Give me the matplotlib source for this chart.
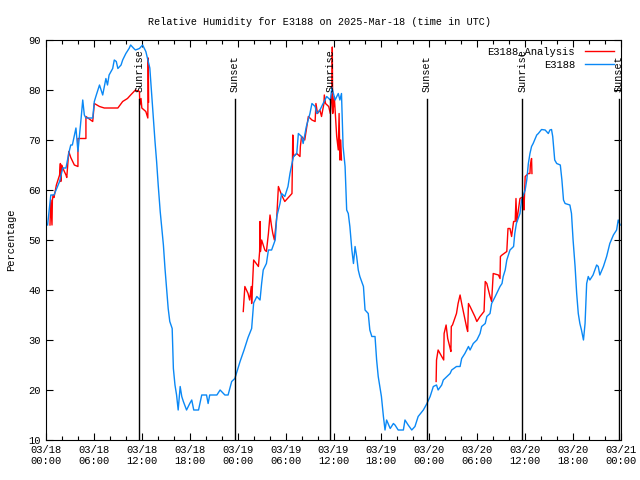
import numpy as np
import matplotlib
matplotlib.use("Agg")
import matplotlib.pyplot as plt
from matplotlib.ticker import MultipleLocator

# hours since 2025-03-18 00:00 UTC
blue_h = [0.2, 0.6, 1.0, 1.7, 2.1, 2.5, 2.9, 3.1, 3.3, 3.75, 4.0, 4.2, 4.4, 4.6, 4.8, 5.0,
          5.85, 6.05, 6.3, 6.7, 7.1, 7.5, 7.7, 7.9, 8.35, 8.55, 8.8, 9.0, 9.4, 9.6, 10.0,
          10.4, 10.6, 11.0, 11.2, 11.7, 12.1, 12.5, 13.0, 13.45, 13.65, 13.85, 14.05, 14.3,
          14.5, 14.7, 14.9, 15.1, 15.3, 15.5, 15.8, 15.95, 16.15, 16.35, 16.55, 16.8, 17.0,
          17.2, 17.6, 18.0, 18.25, 18.5, 19.1, 19.5, 20.1, 20.3, 20.5, 21.4, 21.8, 22.4,
          22.8, 23.25, 23.65, 24.3, 24.8, 25.3,
          25.75, 26.0, 26.4, 26.8, 27.0, 27.2, 27.6, 27.85, 28.25, 28.7, 28.9, 29.3, 29.5,
          29.9, 30.3, 30.55, 30.8, 31.0, 31.4, 31.6, 32.0, 32.2, 32.6, 33.05, 33.3, 33.7,
          33.9, 34.3, 34.7, 35.15, 35.6, 35.8, 36.2, 36.6, 36.8, 37.0, 37.2, 37.45, 37.65,
          37.85, 38.05, 38.3, 38.5, 38.7, 38.9, 39.1, 39.3, 39.75, 39.95, 40.35, 40.55,
          40.8, 41.2, 41.4, 41.6, 41.8, 42.0, 42.25, 42.45, 42.65, 43.1, 43.5, 43.7, 44.1,
          44.75, 44.95, 45.35, 45.8, 46.2, 46.6, 47.25, 47.7, 48.1, 48.5, 48.9, 49.1, 49.55,
          49.75, 50.2, 50.6, 50.8, 51.4, 51.85, 52.05, 52.45, 52.9, 53.1, 53.5, 53.95,
          54.35, 54.55, 55.0, 55.2, 55.6, 55.8, 56.25, 56.65, 56.85, 57.1, 57.25, 57.5,
          57.7, 58.1, 58.55, 58.7, 58.9, 59.35, 59.55, 60.0, 60.2, 60.4, 60.6, 60.8, 61.0,
          61.45, 61.65, 62.05, 62.5, 62.9, 63.1, 63.3, 63.45, 63.7, 63.95, 64.4, 64.6, 64.8,
          65.0, 65.6, 65.8, 66.0, 66.25, 66.45, 66.65, 66.85, 67.05, 67.3, 67.5, 67.7, 67.9,
          68.1, 68.5, 68.95, 69.15, 69.35, 69.8, 70.2, 70.6, 71.05, 71.45, 71.65, 71.9]
blue_v = [53, 59, 59, 61.7, 64.4, 64.4, 67.7, 69, 69, 72.4, 67.7, 71, 74.4, 78, 75, 74.4,
          74.4, 77.7, 79, 81, 79, 82.3, 81, 83, 84.3, 86, 85.7, 84.3, 85, 86, 87.3,
          88.3, 89, 88.3, 88, 88.3, 89, 87.7, 84.4, 74.3, 69.7, 65.7, 61, 55.7,
          52.3, 49, 44.3, 40.3, 36.3, 33.7, 32.3, 24.3, 21, 19, 16, 20.7, 18.7,
          17.7, 16, 17.3, 18, 16, 16, 19, 19, 17.3, 19, 19, 20, 19,
          19, 21.7, 22.3, 25.7, 28, 30.5,
          32.3, 37.4, 38.7, 38, 41.3, 44, 45.3, 48, 48, 50, 54.7, 57.3, 59.3,
          58.7, 60.7, 63.3, 65.3, 66.7, 67.3, 71.3, 70.7, 69.3, 72.7, 75.3, 77.3, 76.7,
          75.3, 76, 77.3, 78.7, 78, 80.5, 78, 79.3, 78, 79.3, 68.7, 64.7, 56,
          55.3, 52.7, 48, 45.3, 48.7, 46.7, 44, 42.7, 40.7, 36, 35.3, 32,
          30.7, 30.7, 26, 22.7, 20.7, 18.7, 14.7, 12, 14, 12.3, 13.3, 13, 12,
          12, 14, 13, 12, 12.7, 14.7, 16, 17.3, 18.7, 20.7, 21, 20, 21,
          22, 22.7, 23.3, 24, 24.7, 24.7, 26.3, 27.3, 28.7, 28, 29.3, 30,
          31.3, 32.7, 33.3, 34.7, 35.3, 37.3, 38.7, 40, 40.7, 41.3, 42.7, 44,
          46, 48, 48.7, 51.3, 53.3, 55.3, 58, 60, 62, 65.3, 67.3, 68.7, 69.3,
          71, 71.3, 72.1, 72, 71.3, 72, 72.1, 70.7, 66, 65.3, 65, 62, 58,
          57.3, 57, 55.3, 50, 44.7, 39.3, 35.3, 33.3, 32, 30, 33.3, 41.3, 42.7,
          42, 43, 45, 44.7, 43, 44.7, 46.7, 49.3, 51, 52, 54, 53]

red1_h = [0.5, 0.6, 0.75, 0.8, 0.9, 1.0, 1.3, 1.7, 1.8, 1.85, 1.95, 2.1, 2.5, 2.6, 2.85,
          3.1, 3.55, 4.0, 4.0, 5.0, 5.0, 5.85, 6.05, 6.7, 7.3, 9.0, 9.6, 10.2, 10.6, 11.2,
          11.7, 11.75, 11.9, 12.0, 12.5, 12.75, 12.8, 12.85]
red1_v = [53, 58, 53, 58, 59, 58.5, 61, 63, 65.3, 61.7, 65, 64.4, 63, 62.5, 67.7,
          66.5, 65, 64.7, 70.3, 70.3, 74.7, 73.7, 77.3, 76.7, 76.4, 76.4, 77.7, 78.3, 79, 80,
          79.7, 77, 78.3, 76.4, 75.7, 74.4, 86.4, 77.6]

red2_h = [24.7, 24.9, 25.3, 25.5, 25.7, 25.75, 26.0, 26.6, 26.75, 26.8, 26.85, 27.0, 27.4,
          27.6, 27.85, 28.05, 28.25, 28.4, 28.6, 28.9, 29.1, 29.5, 29.9, 30.8, 30.85, 30.9,
          31.0, 31.4, 31.8, 31.85, 32.0, 32.4, 32.85, 33.3, 33.7, 33.8, 34.0, 34.3, 34.5,
          34.8, 34.85, 35.0, 35.4, 35.6, 35.8, 35.85, 35.9, 36.0, 36.1, 36.4, 36.6, 36.7,
          36.8, 36.9, 37.0]
red2_v = [35.7, 40.7, 39.3, 38, 40.7, 37.3, 46, 44.7, 47.7, 53.7, 47.7, 50, 48,
          47.7, 51.3, 55, 52.7, 51.3, 50, 54.7, 60.7, 59, 57.7, 59.3, 64.7, 71,
          66.7, 67.3, 66.7, 68.7, 70.7, 70, 74.7, 74, 73.7, 77.3, 75.3, 76, 74.7,
          77.3, 79, 77.3, 76.7, 75.3, 79, 88.6, 75.3, 76.7, 78.7, 70.7, 68, 75.3,
          66, 70, 66]

red3_h = [48.85, 48.9, 49.1, 49.55, 49.8, 49.85, 50.1, 50.3, 50.55, 50.7, 50.75, 50.9,
          51.4, 51.6, 51.85, 52.05, 52.7, 52.8, 52.9, 53.1, 53.7, 53.95, 54.35, 54.85, 55.0,
          55.2, 55.6, 55.8, 56.0, 56.65, 56.85, 56.9, 57.1, 57.7, 57.85, 58.1, 58.3, 58.55,
          58.75, 58.85, 58.95, 59.35, 59.8, 59.85, 60.0, 60.4, 60.6, 60.65, 60.8, 60.85]
red3_v = [21.7, 26, 28, 26.7, 26, 31.3, 33, 30.3, 28.7, 27.7, 32.7, 33,
          35.3, 37.3, 39, 37.3, 32.3, 31.7, 37.3, 36.7, 34.7, 33.7, 34.7, 35.7, 41.7,
          41.3, 38.7, 37.7, 43.3, 43, 42.3, 46.7, 47, 47.7, 52.3, 52.3, 50.7, 53.7,
          53.7, 58.3, 53.7, 58.3, 58.7, 56, 62.7, 63.3, 63.3, 65, 66.3, 63.3]

sunrise_h = [11.68, 35.62, 59.62]
sunset_h = [23.67, 47.68, 71.72]

tick_labels = ["03/18\n00:00", "03/18\n06:00", "03/18\n12:00", "03/18\n18:00",
               "03/19\n00:00", "03/19\n06:00", "03/19\n12:00", "03/19\n18:00",
               "03/20\n00:00", "03/20\n06:00", "03/20\n12:00", "03/20\n18:00",
               "03/21\n00:00"]

plt.rcParams['font.family'] = ['Liberation Mono', 'DejaVu Sans Mono']
plt.rcParams['font.size'] = 7.5

fig = plt.figure(figsize=(6.4, 4.8), dpi=100)
ax = fig.add_axes([46 / 640, 40 / 480, 575 / 640, 400 / 480])

red = '#ff0000'
blue = '#0a88f5'
ax.plot(red1_h, red1_v, color=red, lw=1, label='E3188_Analysis')
ax.plot(red2_h, red2_v, color=red, lw=1)
ax.plot(red3_h, red3_v, color=red, lw=1)
ax.plot(blue_h, blue_v, color=blue, lw=1, label='E3188')

for h in sunrise_h:
    ax.plot([h, h], [10, 78.2], color='black', lw=1)
    ax.text(h, 79.6, 'Sunrise', rotation=90, ha='center', va='bottom', fontsize=7.3)
for h in sunset_h:
    ax.plot([h, h], [10, 78.2], color='black', lw=1)
    ax.text(h, 79.6, 'Sunset', rotation=90, ha='center', va='bottom', fontsize=7.3)

ax.set_xlim(0, 72)
ax.set_ylim(10, 90)
ax.set_xticks(np.arange(0, 73, 6))
ax.set_xticklabels(tick_labels)
ax.xaxis.set_minor_locator(MultipleLocator(2))
ax.set_yticks(np.arange(10, 91, 10))
ax.tick_params(direction='in', top=True, right=True, length=5, width=0.8, labelsize=7.6)
ax.tick_params(which='minor', direction='in', top=True, length=3, width=0.8)
for s in ax.spines.values():
    s.set_linewidth(0.8)

ax.set_ylabel('Percentage', fontsize=7.6)
ax.yaxis.set_label_coords(-0.052, 0.5)
fig.suptitle('Relative Humidity for E3188 on 2025-Mar-18 (time in UTC)', y=0.965, fontsize=7.3)

ax.legend(loc='upper right', frameon=False, markerfirst=False, fontsize=7.6,
          handlelength=2.8, handletextpad=0.9, labelspacing=0.25,
          borderaxespad=0.25)

fig.savefig('out.png', dpi=100)
